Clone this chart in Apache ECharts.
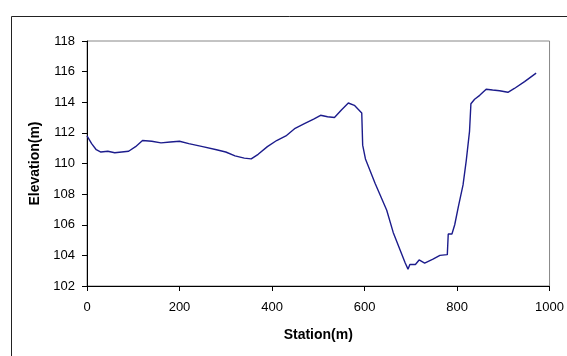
<!DOCTYPE html>
<html>
<head>
<meta charset="utf-8">
<script src="https://cdn.jsdelivr.net/npm/echarts@6/dist/echarts.min.js"></script>
<style>
  html, body { margin: 0; padding: 0; background: #fff; }
  #chart { width: 567px; height: 356px; }
</style>
</head>
<body>
<div id="chart"></div>
<script>
// station (m) and elevation (m)
const stations = [0, 10, 20, 30, 45, 60, 75, 90, 105, 120, 140, 160, 180, 200, 220, 250, 280, 300, 320, 340, 355, 370, 390, 410, 430, 450, 470, 490, 505, 520, 535, 550, 565, 578, 594, 596, 602, 623, 648, 662, 688, 694, 698, 710, 718, 730, 748, 763, 779, 781, 789, 795, 803, 813, 820, 827, 830, 838, 849, 863, 877, 892, 910, 924, 946, 971];
const elevations = [111.8, 111.3, 110.9, 110.75, 110.8, 110.7, 110.75, 110.8, 111.1, 111.5, 111.45, 111.35, 111.4, 111.45, 111.3, 111.1, 110.9, 110.75, 110.5, 110.35, 110.3, 110.6, 111.1, 111.5, 111.8, 112.3, 112.6, 112.9, 113.15, 113.05, 113.0, 113.5, 113.95, 113.8, 113.3, 111.2, 110.3, 108.7, 106.95, 105.5, 103.5, 103.1, 103.4, 103.4, 103.7, 103.5, 103.75, 104.0, 104.05, 105.4, 105.4, 106.0, 107.2, 108.6, 110.2, 112.1, 113.9, 114.2, 114.45, 114.85, 114.8, 114.75, 114.65, 114.9, 115.35, 115.9];

const chart = echarts.init(document.getElementById("chart"));

const font = "Liberation Sans, Arial, sans-serif";

const option = {
  animation: false,
  backgroundColor: "#fff",
  grid: {
    left: 87,
    top: 41,
    right: 15,
    bottom: 70,
    show: true,
    borderColor: "#888",
    borderWidth: 1,
  },
  graphic: [
    {
      type: "rect",
      shape: { x: 11.5, y: 16.5, width: 600, height: 400 },
      style: { fill: "none", stroke: "#222", lineWidth: 1 },
      silent: true,
      z: -1,
    },
  ],
  xAxis: {
    type: "value",
    min: 0,
    max: 1000,
    interval: 200,
    name: "Station(m)",
    nameLocation: "middle",
    nameGap: 42,
    nameTextStyle: { color: "#000", fontSize: 14, fontWeight: "bold", fontFamily: font },
    axisLine: { show: true, lineStyle: { color: "#000", width: 1 } },
    axisTick: { show: true, length: 5, lineStyle: { color: "#000" } },
    axisLabel: { color: "#000", fontSize: 13, fontFamily: font, margin: 15, formatter: (v) => String(v) },
    splitLine: { show: false },
  },
  yAxis: {
    type: "value",
    min: 102,
    max: 118,
    interval: 2,
    name: "Elevation(m)",
    nameLocation: "middle",
    nameGap: 43,
    nameTextStyle: { color: "#000", fontSize: 14, fontWeight: "bold", fontFamily: font },
    axisLine: { show: true, lineStyle: { color: "#000", width: 1 } },
    axisTick: { show: true, length: 5, lineStyle: { color: "#000" } },
    axisLabel: { color: "#000", fontSize: 13, fontFamily: font, margin: 12 },
    splitLine: { show: false },
  },
  series: [
    {
      type: "line",
      data: stations.map((s, i) => [s, elevations[i]]),
      showSymbol: false,
      smooth: false,
      lineStyle: { color: "#1c1c8c", width: 1.4 },
    },
  ],
};

chart.setOption(option);
</script>
</body>
</html>
